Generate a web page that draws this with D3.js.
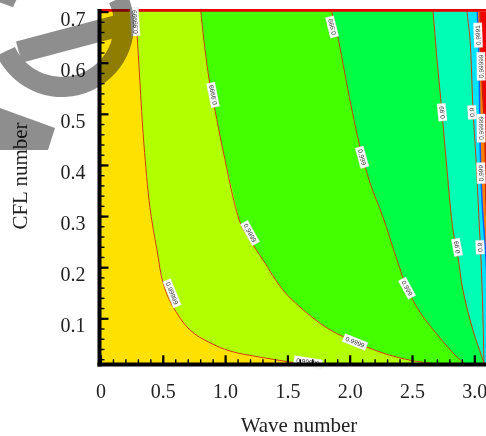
<!DOCTYPE html>
<html lang="en">
<head>
<meta charset="UTF-8">
<script src="https://d3js.org/d3.v7.min.js"></script>
<title>Amplification factor contours</title>
<style>
    body { margin: 0; background: #fff; }
    svg text { font-family: "Liberation Serif", "Times New Roman", serif; }
</style>
</head>
<body>
<svg class="contour"></svg>

<script>
    // tick labels
    const waveTicks = [0, 0.5, 1.0, 1.5, 2.0, 2.5, 3.0];
    const waveTickLabels = ["0", "0.5", "1.0", "1.5", "2.0", "2.5", "3.0"];
    const cflTicks = [0.1, 0.2, 0.3, 0.4, 0.5, 0.6, 0.7];
    const cflTickLabels = ["0.1", "0.2", "0.3", "0.4", "0.5", "0.6", "0.7"];

    // contour lines, [wave number, CFL], top to bottom
    const line99999 = [[0.277, 0.713], [0.301, 0.625], [0.325, 0.527], [0.349, 0.439], [0.397, 0.316],
        [0.453, 0.234], [0.502, 0.169], [0.574, 0.126], [0.718, 0.077], [0.879, 0.052], [1.039, 0.036],
        [1.280, 0.024], [1.521, 0.0145], [1.762, 0.005]];
    const line9999 = [[0.799, 0.713], [0.839, 0.625], [0.879, 0.556], [0.919, 0.507], [0.983, 0.429],
        [1.120, 0.288], [1.200, 0.253], [1.304, 0.214], [1.465, 0.155], [1.601, 0.122], [1.818, 0.081],
        [2.043, 0.0536], [2.267, 0.032], [2.484, 0.018], [2.701, 0.0106], [2.885, 0.005]];
    const line999 = [[1.850, 0.713], [1.858, 0.697], [1.898, 0.658], [2.002, 0.527], [2.083, 0.435],
        [2.163, 0.365], [2.267, 0.298], [2.380, 0.214], [2.460, 0.159], [2.564, 0.112], [2.725, 0.0614],
        [2.845, 0.0282], [2.925, 0.0106], [2.965, 0.001]];
    const line99 = [[2.661, 0.713], [2.669, 0.699], [2.701, 0.605], [2.741, 0.503], [2.781, 0.390],
        [2.829, 0.273], [2.869, 0.220], [2.909, 0.155], [2.989, 0.077], [3.070, 0.018], [3.094, 0.001]];
    const line9 = [[2.942, 0.713], [2.942, 0.701], [2.966, 0.644], [2.990, 0.507], [3.014, 0.410],
        [3.038, 0.292], [3.054, 0.214], [3.070, 0.097], [3.078, 0.001]];
    const lineEdge1 = [[3.022, 0.713], [3.038, 0.605], [3.046, 0.449], [3.062, 0.331], [3.094, 0.214], [3.126, 0.001]];
    const lineEdge2 = [[3.046, 0.713], [3.054, 0.605], [3.086, 0.449], [3.094, 0.331], [3.118, 0.214], [3.142, 0.001]];

    const contourLines = [line99999, line9999, line999, line99, line9, lineEdge1, lineEdge2];
    // colour of the band left of each line, then the last band
    const bandColors = ["#ffe100", "#b2ff00", "#44ff00", "#00ff44", "#00ffb4", "#00e4ff", "#ff8000", "#f00000"];
    const lineColors = ["#c8400a", "#c8400a", "#c8400a", "#c8400a", "#c8400a", "#1060ff", "#d02000"];

    // contour labels: line index, text, position
    const labelLine = [0, 0, 0, 1, 1, 1, 2, 2, 2, 3, 3, 4, 4, 5, 5, 5, 5];
    const labelText = ["0.99999", "0.99999", "0.99999", "0.9999", "0.9999", "0.9999", "0.999", "0.999", "0.999",
        "0.99", "0.99", "0.9", "0.9", "0.9991", "0.99999", "0.99999", "0.999"];
    const labelWave = [0.277, 0.574, 1.665, 0.903, 1.200, 2.043, 1.858, 2.099, 2.460, 2.741, 2.861, 2.982, 3.046,
        3.030, 3.054, 3.054, 3.054];
    const labelCfl = [0.680, 0.149, 0.0145, 0.537, 0.267, 0.0536, 0.670, 0.415, 0.159, 0.503, 0.239, 0.503, 0.239,
        0.654, 0.593, 0.472, 0.384];

    let width = 486, height = 436;
    let svg = d3.select('.contour').attr('width', width).attr('height', height);

    var x = d3.scaleLinear().domain([0, Math.PI]).range([100.5, 100.5 + 124.6 * Math.PI]);
    var y = d3.scaleLinear().domain([0.01, 0.7]).range([364.3, 11.6]);

    let x0 = x(0), x1 = x(Math.PI), yTop = y(0.7), yBot = y(0.01);

    svg.append('clipPath').attr('id', 'plotClip')
        .append('rect').attr('x', x0).attr('y', yTop).attr('width', x1 - x0).attr('height', yBot - yTop);

    let plot = svg.append('g').attr('clip-path', 'url(#plotClip)');

    // last band fills everything, then paint left of each line from right to left
    plot.append('rect').attr('x', x0).attr('y', yTop).attr('width', x1 - x0).attr('height', yBot - yTop)
        .style('fill', bandColors[bandColors.length - 1]);

    for (let i = contourLines.length - 1; i >= 0; i--) {
        let pts = contourLines[i];
        let poly = pts.concat([[-0.2, pts[pts.length - 1][1]], [-0.2, pts[0][1]]]);
        plot.append('path')
            .attr('d', d3.line().x(d => x(d[0])).y(d => y(d[1]))(poly) + 'Z')
            .style('fill', bandColors[i]);
    }

    let curve = d3.line().x(d => x(d[0])).y(d => y(d[1])).curve(d3.curveCatmullRom);
    contourLines.forEach(function (pts, i) {
        plot.append('path').attr('d', curve(pts))
            .style('fill', 'none').style('stroke', lineColors[i]).style('stroke-width', i >= 5 ? 1.5 : 1);
    });

    // top border
    svg.append('line').attr('x1', x0).attr('x2', width).attr('y1', yTop - 1.2).attr('y2', yTop - 1.2)
        .style('stroke', '#e60000').style('stroke-width', 2.8);

    // contour labels
    let labels = svg.append('g');
    labelText.forEach(function (t, i) {
        let pts = contourLines[labelLine[i]];
        let px = x(labelWave[i]), py = y(labelCfl[i]);
        // local direction from the nearest segment
        let best = 0, bestD = 1e9;
        for (let j = 0; j < pts.length - 1; j++) {
            let mx = (x(pts[j][0]) + x(pts[j + 1][0])) / 2, my = (y(pts[j][1]) + y(pts[j + 1][1])) / 2;
            let dd = (mx - px) * (mx - px) + (my - py) * (my - py);
            if (dd < bestD) { bestD = dd; best = j; }
        }
        let ang = Math.atan2(y(pts[best + 1][1]) - y(pts[best][1]), x(pts[best + 1][0]) - x(pts[best][0])) * 180 / Math.PI;
        if (ang > 75) ang -= 180;
        let g = labels.append('g').attr('transform', 'translate(' + px + ',' + py + ') rotate(' + ang + ')');
        let w = t.length * 3.6 + 3;
        g.append('rect').attr('x', -w / 2).attr('y', -4.2).attr('width', w).attr('height', 8.4)
            .style('fill', '#fff').style('stroke', '#ddd').style('stroke-width', 0.4);
        g.append('text').attr('text-anchor', 'middle').attr('dy', '0.35em')
            .style('font-family', '"Liberation Sans", Arial, sans-serif').style('font-size', '6.5px')
            .style('fill', '#333').text(t);
    });

    // axes
    let yAxis = svg.append('g').attr('transform', 'translate(' + x0 + ',0)')
        .call(d3.axisLeft(y).tickValues(cflTicks).tickFormat((d, i) => cflTickLabels[i]).tickSize(-8).tickPadding(15));
    svg.append('g').attr('transform', 'translate(' + x0 + ',0)')
        .call(d3.axisLeft(y).tickValues(d3.range(0.02, 0.701, 0.02)).tickFormat('').tickSize(-4));
    let xAxis = svg.append('g').attr('transform', 'translate(0,' + yBot + ')')
        .call(d3.axisBottom(x).tickValues(waveTicks).tickFormat((d, i) => waveTickLabels[i]).tickSize(-9).tickPadding(19.5));
    svg.append('g').attr('transform', 'translate(0,' + yBot + ')')
        .call(d3.axisBottom(x).tickValues(d3.range(0.1, 3.15, 0.1)).tickFormat('').tickSize(-5));

    svg.selectAll('.domain').remove();
    svg.selectAll('.tick line').style('stroke', '#000').style('stroke-width', 1.4);
    yAxis.selectAll('.tick line').style('stroke-width', 2.2);
    xAxis.selectAll('.tick line').style('stroke-width', 2.2);
    yAxis.selectAll('text').attr('dy', '0.67em');
    svg.selectAll('.tick text').style('font-family', '"Liberation Serif", "Times New Roman", serif')
        .style('font-size', '20px').style('fill', '#222');

    svg.append('line').attr('x1', 99.5).attr('x2', 99.5).attr('y1', yTop - 2.6).attr('y2', yBot + 2.2)
        .style('stroke', '#000').style('stroke-width', 4);
    svg.append('line').attr('x1', 97.5).attr('x2', width).attr('y1', yBot + 0.3).attr('y2', yBot + 0.3)
        .style('stroke', '#000').style('stroke-width', 4);

    svg.append('text').attr('x', 299).attr('y', 431.5).attr('text-anchor', 'middle')
        .style('font-size', '21px').style('fill', '#222').text('Wave number');
    svg.append('text').attr('transform', 'translate(27,176) rotate(-90)').attr('text-anchor', 'middle')
        .style('font-size', '21px').style('fill', '#222').text('CFL number');

    // watermark overlay
    let mark = svg.append('g').style('mix-blend-mode', 'multiply').style('fill', '#8e8e8e');
    let ring = d3.arc().innerRadius(52).outerRadius(72);
    mark.append('path').attr('transform', 'translate(62,25)')
        .attr('d', ring({startAngle: 65 * Math.PI / 180, endAngle: 245 * Math.PI / 180}));
    mark.append('path').attr('transform', 'translate(62,25)')
        .attr('d', ring({startAngle: 290 * Math.PI / 180, endAngle: 330 * Math.PI / 180}));
    mark.append('rect').attr('x', -55).attr('y', -11).attr('width', 110).attr('height', 22)
        .attr('transform', 'translate(72,38) rotate(-15)');
    mark.append('path').attr('d', 'M0,108 L55,128 L48,150 L0,150 Z');
</script>
</body>
</html>
